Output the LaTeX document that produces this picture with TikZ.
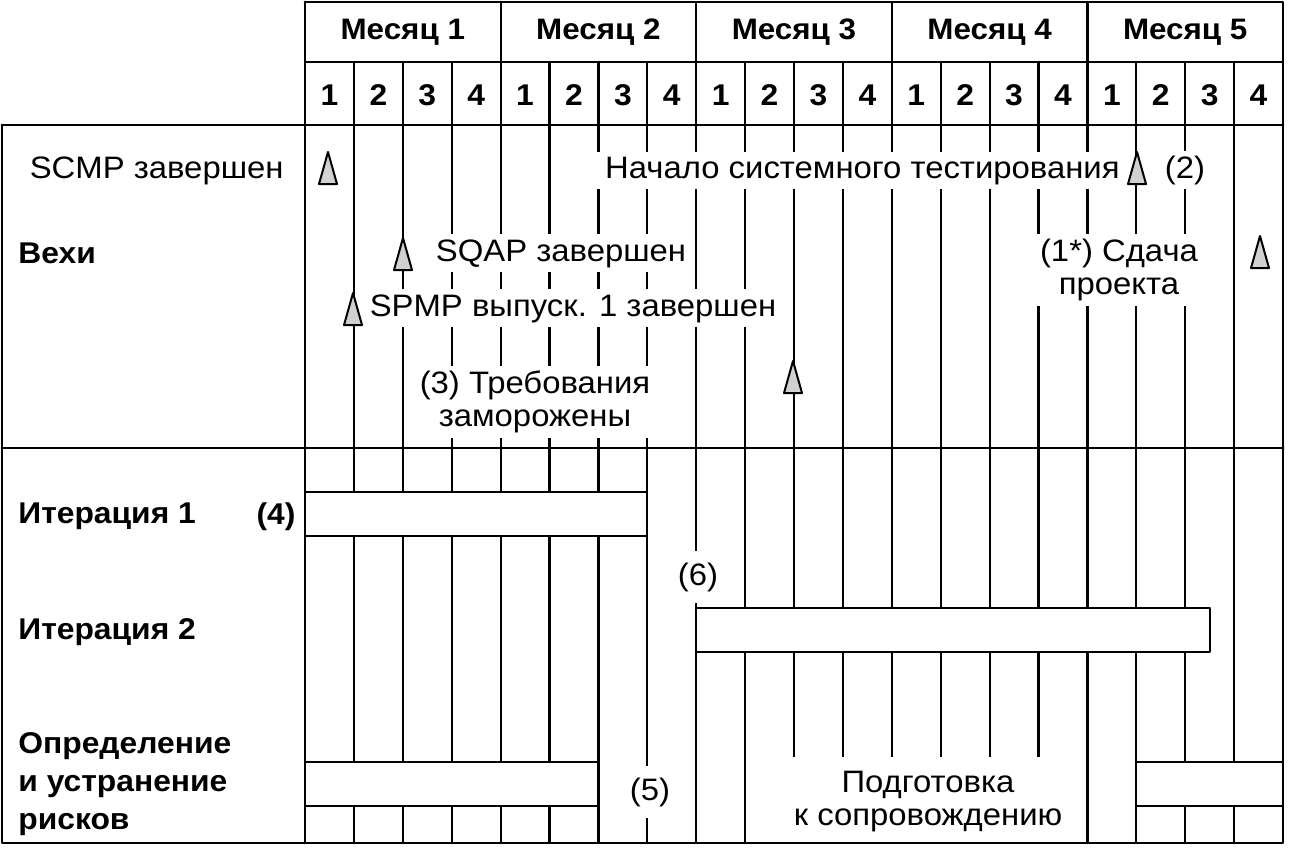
\documentclass[tikz,border=0pt]{standalone}
\usepackage{fontspec}
\setmainfont{Liberation Sans}[FakeStretch=1.06]
\begin{document}
\begin{tikzpicture}[x=0.5pt, y=-0.5pt, line join=round, line cap=round,
		grid/.style={line width=1.1pt},
		frame/.style={line width=1.4pt},
		note/.style={fill=white, inner xsep=4pt, inner ysep=2.5pt, align=center, font=\fontsize{15.5}{16.5}\selectfont},
		hdr/.style={font=\bfseries\fontsize{14.8}{16}\selectfont},
		wk/.style={font=\bfseries\fontsize{15}{16}\selectfont},
		lbl/.style={anchor=west, align=left, inner sep=0pt, font=\bfseries\fontsize{15}{19}\selectfont},
		bar/.style={draw, fill=white, line width=1.1pt},
		vexa/.pic={\filldraw[line width=1pt, fill=black!18] (-9,16) -- (0,-16) -- (9,16) -- cycle;}]
		\useasboundingbox (0,0) rectangle (1289,847);
		% week and month columns
		\foreach \i in {1,...,19}
			\draw[grid] ({305+48.9*\i},62) -- ({305+48.9*\i},843);
		\foreach \i in {4,8,12,16}
			\draw[grid] ({305+48.9*\i},2) -- ({305+48.9*\i},62);
		\foreach \m in {1,...,5}
			\node[hdr] (m\m) at ({305+48.9*(4*\m-2)},32) {Месяц \m};
		\foreach \i [evaluate=\i as \w using {int(mod(\i-1,4)+1)}] in {1,...,20}
			\node[wk] (w\i) at ({305+48.9*(\i-0.5)},95) {\w};
		% milestones
		\node[note, anchor=base east] (scmp) at (292,178) {SCMP завершен};
		\node[lbl] (vehi) at (18,253) {Вехи};
		\node[note, anchor=base east] (systest) at (1128,178) {Начало системного тестирования};
		\node[note, anchor=base] (n2) at (1185,178) {(2)};
		\node[note, anchor=base] (sqap) at (561,261) {SQAP завершен};
		\node[note, anchor=base] (spmp) at (573,316) {SPMP выпуск. 1 завершен};
		\node[note] (req) at (535,402) {(3) Требования\\заморожены};
		\node[note] (handover) at (1119,270) {(1*) Сдача\\проекта};
		\pic (v1) at (328,168) {vexa};
		\pic (v2) at (403,254) {vexa};
		\pic (v3) at (353,309) {vexa};
		\pic (v4) at (793,377) {vexa};
		\pic (v5) at (1137,168) {vexa};
		\pic (v6) at (1260,252) {vexa};
		% iterations and risks
		\draw[bar] (305,492) rectangle ({305+48.9*7},536);
		\draw[bar] ({305+48.9*8},608) rectangle (1210,652);
		\draw[bar] (305,762) rectangle ({305+48.9*6},806);
		\draw[bar] ({305+48.9*17},762) rectangle (1283,806);
		\node[lbl] (it1) at (18,516) {Итерация 1};
		\node[lbl, anchor=center] (n4) at (276,517) {(4)};
		\node[lbl] (it2) at (18,632) {Итерация 2};
		\node[lbl] (risk) at (18,784) {Определение\\и устранение\\рисков};
		\node[note, inner sep=6pt] (n5) at (650,792) {(5)};
		\node[note, inner sep=6pt] (n6) at (698,577) {(6)};
		\fill[white] (748,757) rectangle (1084,842);
		\node[note] (prep) at (928,802) {Подготовка\\к сопровождению};
		% frame
		\draw[grid] (305,62) -- (1283,62);
		\draw[frame] (2,125) -- (1283,125);
		\draw[frame] (2,448) -- (1283,448);
		\draw[frame] (305,2) -- (305,843);
		\draw[frame] (305,2) -- (1283,2) -- (1283,843) -- (2,843) -- (2,125);
	\end{tikzpicture}
\end{document}
